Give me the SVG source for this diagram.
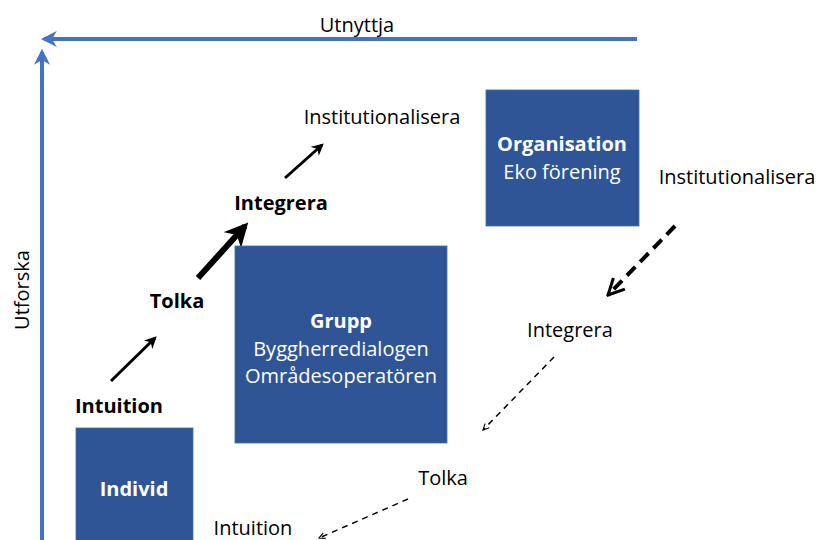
<svg xmlns="http://www.w3.org/2000/svg" width="821" height="540" viewBox="0 0 821 540">
<defs>
<style>
text{font-family:"Open Sans","Liberation Sans",sans-serif;font-size:20px;fill:#000}
.b{font-weight:bold}
.w{fill:#fff}
.box{fill:#2F5597;stroke:#41719C;stroke-width:0.8}
.ax{stroke:#4472C4;stroke-width:4;fill:none}
.ar{stroke:#000;fill:none}
</style>
<marker id="ba" viewBox="0 0 10 10" refX="8" refY="5" markerWidth="4" markerHeight="4" orient="auto"><path d="M0,0 L10,5 L0,10 L3,5 Z" fill="#4472C4"/></marker>
<marker id="ka" viewBox="0 0 10 10" refX="8" refY="5" markerWidth="4" markerHeight="4" orient="auto"><path d="M0,0 L10,5 L0,10 L3,5 Z" fill="#000"/></marker>
<marker id="oa" viewBox="0 0 10 10" refX="9" refY="5" markerWidth="5" markerHeight="5" orient="auto"><path d="M1,1 L9,5 L1,9" fill="none" stroke="#000" stroke-width="1.5"/></marker>
</defs>
<g id="connectors">
<path class="ax" d="M637,39 L44,39" marker-end="url(#ba)"/>
<path class="ax" d="M42,540 L42,52" marker-end="url(#ba)"/>
<path class="ar" stroke-width="3" d="M111,381 L155,338" marker-end="url(#ka)"/>
<path class="ar" stroke-width="6" d="M198,278 L245,226" marker-end="url(#ka)"/>
<path class="ar" stroke-width="3" d="M285,178 L322,145" marker-end="url(#ka)"/>
<path class="ar" stroke-width="4" stroke-dasharray="12,7" d="M675,226 L608,295" marker-end="url(#oa)"/>
<path class="ar" stroke-width="1.5" stroke-dasharray="6,5" d="M554,357 L483,430" marker-end="url(#oa)"/>
<path class="ar" stroke-width="1.5" stroke-dasharray="6,5" d="M408,499 L319,538" marker-end="url(#oa)"/>
</g>
<g id="axis-labels">
<text x="357" y="32" text-anchor="middle">Utnyttja</text>
<text transform="translate(29,290) rotate(-90)" text-anchor="middle">Utforska</text>
</g>
<g id="organisation">
<rect class="box" x="486" y="90" width="153" height="136"/>
<text class="b w" x="562" y="151" text-anchor="middle">Organisation</text>
<text class="w" x="562" y="179" text-anchor="middle">Eko förening</text>
</g>
<g id="grupp">
<rect class="box" x="235" y="246" width="212" height="197"/>
<text class="b w" x="341" y="328" text-anchor="middle">Grupp</text>
<text class="w" x="341" y="356" text-anchor="middle">Byggherredialogen</text>
<text class="w" x="341" y="383" text-anchor="middle">Områdesoperatören</text>
</g>
<g id="individ">
<rect class="box" x="76" y="428" width="117" height="120"/>
<text class="b w" x="134" y="496" text-anchor="middle">Individ</text>
</g>
<g id="left-labels">
<text class="b" x="119" y="413" text-anchor="middle">Intuition</text>
<text class="b" x="177" y="308" text-anchor="middle">Tolka</text>
<text class="b" x="281" y="210" text-anchor="middle">Integrera</text>
<text x="382" y="124" text-anchor="middle">Institutionalisera</text>
</g>
<g id="right-labels">
<text x="737" y="184" text-anchor="middle">Institutionalisera</text>
<text x="570" y="337" text-anchor="middle">Integrera</text>
<text x="443" y="485" text-anchor="middle">Tolka</text>
<text x="253" y="535" text-anchor="middle">Intuition</text>
</g>
</svg>
